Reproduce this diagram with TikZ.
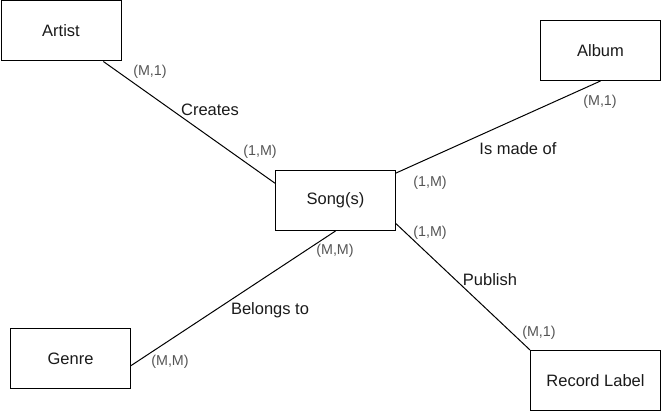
\documentclass[tikz,border=0pt]{standalone}
\usepackage{fontspec}
\setmainfont{Liberation Sans}
\usetikzlibrary{calc}
\definecolor{cardgray}{HTML}{555555}
\definecolor{txt}{HTML}{1A1A1A}
\tikzset{
  entity/.style={draw=black, line width=1pt, fill=white, inner sep=0pt, text=txt,
    font=\fontsize{16.5}{19}\selectfont, anchor=north west},
  rel/.style={text=txt, font=\fontsize{16.5}{19}\selectfont, inner sep=0pt},
  card/.style={text=cardgray, font=\fontsize{14.3}{17}\selectfont, inner sep=0pt},
  link/.style={draw=black, line width=1pt}
}
\begin{document}
\begin{tikzpicture}[x=1pt,y=-1pt]
\useasboundingbox (0,0) rectangle (661,411);
% entities
\node[entity, minimum width=120pt, minimum height=60pt] (artist) at (0.5,0.5) {Artist};
\node[entity, minimum width=120pt, minimum height=60pt] (album) at (540,20) {Album};
\node[entity, minimum width=120pt, minimum height=60pt] (song) at (275,170) {Song(s)};
\node[entity, minimum width=120pt, minimum height=60pt] (genre) at (10,328) {Genre};
\node[entity, minimum width=130pt, minimum height=60pt] (label) at (530,350) {Record Label};
% connection points
\coordinate (a1) at ($(artist.south west)!0.85!(artist.south east)$);
\coordinate (s1) at ($(song.north west)!0.217!(song.south west)$);
\coordinate (s2) at ($(song.north east)!0.05!(song.south east)$);
\coordinate (s3) at ($(song.north east)!0.88!(song.south east)$);
\coordinate (g1) at ($(genre.north east)!0.617!(genre.south east)$);
% connectors
\draw[link] (a1) -- (s1);
\draw[link] (album.south) -- (s2);
\draw[link] (s3) -- (label.north west);
\draw[link] (song.south) -- (g1);
% relationship labels
\node[rel] (creates) at (210,110) {Creates};
\node[rel] (madeof) at (518,149) {Is made of};
\node[rel] (publish) at (490,280) {Publish};
\node[rel] (belongs) at (270,310) {Belongs to};
% cardinalities
\node[card] (c1) at (150,72) {(M,1)};
\node[card] (c2) at (260,152) {(1,M)};
\node[card] (c3) at (600,102) {(M,1)};
\node[card] (c4) at (430,183) {(1,M)};
\node[card] (c5) at (430,233) {(1,M)};
\node[card] (c6) at (539,333) {(M,1)};
\node[card] (c7) at (335,251) {(M,M)};
\node[card] (c8) at (170,362) {(M,M)};
\end{tikzpicture}
\end{document}
